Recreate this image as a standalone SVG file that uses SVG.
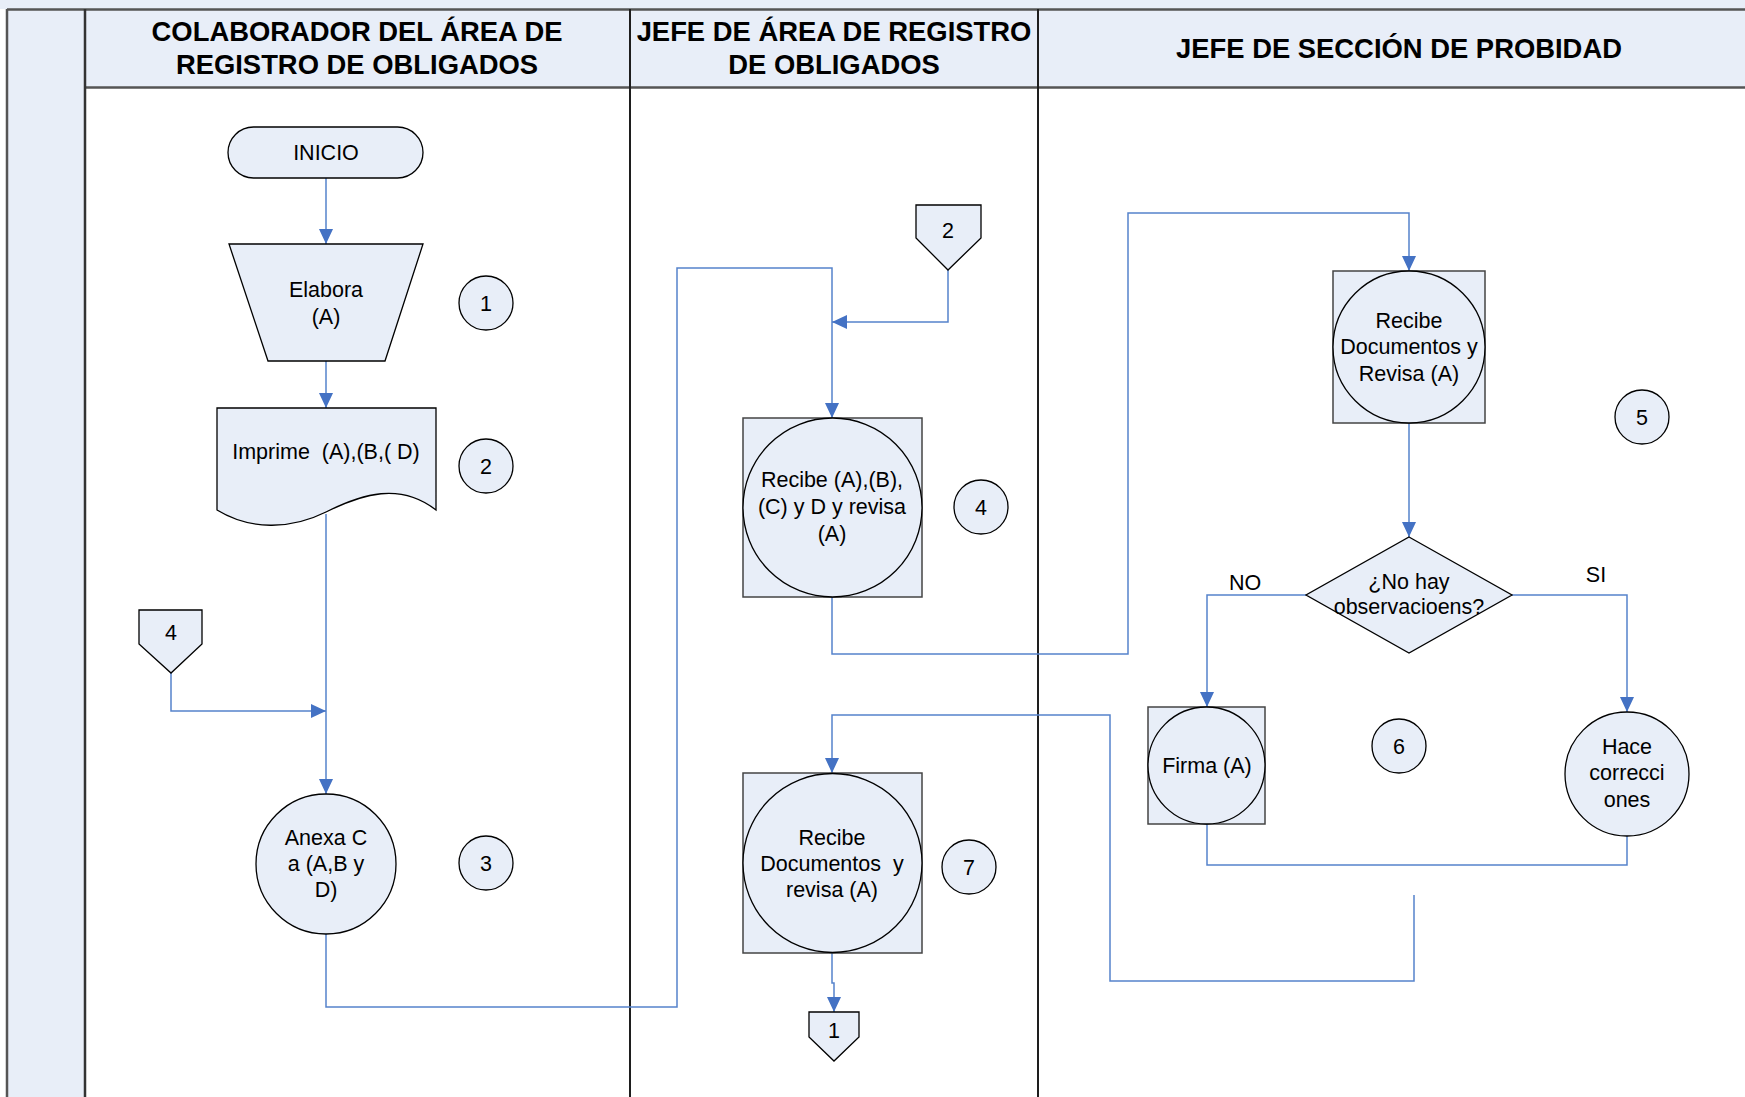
<svg xmlns="http://www.w3.org/2000/svg" width="1745" height="1097" viewBox="0 0 1745 1097">
  <style>
    .hdr { font-family: "Liberation Sans", Arial, sans-serif; font-weight: bold; font-size: 27.4px; fill: #000; text-anchor: middle; }
    .t { font-family: "Liberation Sans", Arial, sans-serif; font-size: 21.5px; fill: #000; text-anchor: middle; }
    .shape { fill: #E8EEF8; stroke: #000; stroke-width: 1.3; }
    .box { fill: #E8EEF8; stroke: #444; stroke-width: 1.5; }
    .conn { fill: none; stroke: #5583CB; stroke-width: 1.5; }
    .frame { stroke: #555; stroke-width: 2.5; fill: none; }
    .lane { stroke: #1E1E1E; stroke-width: 2; fill: none; }
  </style>
  <defs>
    <marker id="arrow" markerUnits="userSpaceOnUse" markerWidth="16" markerHeight="16" refX="15" refY="7" orient="auto">
      <path d="M0,0 L15,7 L0,14 Z" fill="#4472C4"/>
    </marker>
  </defs>

  <!-- swimlane frame -->
  <g id="frame">
    <rect x="0" y="0" width="1745" height="1097" fill="#FFFFFF"/>
    <rect x="0" y="0" width="1745" height="9" fill="#E8EEF8"/>
    <rect x="7" y="9" width="78" height="1088" fill="#E8EEF8"/>
    <rect x="85" y="9" width="1660" height="79" fill="#E8EEF8"/>
    <line class="frame" x1="7" y1="9.5" x2="1745" y2="9.5"/>
    <line class="frame" x1="85" y1="87.5" x2="1745" y2="87.5"/>
    <line class="frame" x1="7" y1="9" x2="7" y2="1097"/>
    <line x1="85" y1="9" x2="85" y2="1097" stroke="#333" stroke-width="2.5"/>
    <line class="lane" x1="630" y1="9" x2="630" y2="1097"/>
    <line class="lane" x1="1038" y1="9" x2="1038" y2="1097"/>
    <text class="hdr" x="357" y="41">COLABORADOR DEL ÁREA DE</text>
    <text class="hdr" x="357" y="74">REGISTRO DE OBLIGADOS</text>
    <text class="hdr" x="834" y="41">JEFE DE ÁREA DE REGISTRO</text>
    <text class="hdr" x="834" y="74">DE OBLIGADOS</text>
    <text class="hdr" x="1399" y="58">JEFE DE SECCIÓN DE PROBIDAD</text>
  </g>

  <!-- connectors -->
  <g id="connectors">
    <path class="conn" d="M326,178 V244" marker-end="url(#arrow)"/>
    <path class="conn" d="M326,361 V408" marker-end="url(#arrow)"/>
    <path class="conn" d="M326,514 V794" marker-end="url(#arrow)"/>
    <path class="conn" d="M171,673 V711 H326" marker-end="url(#arrow)"/>
    <path class="conn" d="M326,934 V1007 H677 V268 H832 V418" marker-end="url(#arrow)"/>
    <path class="conn" d="M948,270 V322 H832" marker-end="url(#arrow)"/>
    <path class="conn" d="M832,597 V654 H1128 V213 H1409 V271" marker-end="url(#arrow)"/>
    <path class="conn" d="M1409,423 V537" marker-end="url(#arrow)"/>
    <path class="conn" d="M1306,595 H1207 V707" marker-end="url(#arrow)"/>
    <path class="conn" d="M1512,595 H1627 V712" marker-end="url(#arrow)"/>
    <path class="conn" d="M1207,824 V865 H1627 V836"/>
    <path class="conn" d="M1414,895 V981 H1110 V715 H832 V773" marker-end="url(#arrow)"/>
    <path class="conn" d="M832,953 V983 H834 V1012" marker-end="url(#arrow)"/>
    <text class="t" x="1245" y="590">NO</text>
    <text class="t" x="1596" y="582">SI</text>
  </g>

  <!-- lane 1 -->
  <g id="inicio">
    <rect class="shape" x="228" y="127" width="195" height="51" rx="25.5"/>
    <text class="t" x="326" y="160">INICIO</text>
  </g>
  <g id="elabora">
    <path class="shape" d="M229,244 H423 L385,361 H268 Z"/>
    <text class="t" x="326" y="297">Elabora</text>
    <text class="t" x="326" y="324">(A)</text>
  </g>
  <g id="imprime">
    <path class="shape" d="M217,408 H436 V510 C400,482 362,494 326,512 C290,530 250,530 217,510 Z"/>
    <text class="t" x="326" y="459" xml:space="preserve">Imprime  (A),(B,( D)</text>
  </g>
  <g id="conector-4-entrada">
    <path class="shape" d="M139,610 H202 V644 L171,673 L139,644 Z"/>
    <text class="t" x="171" y="640">4</text>
  </g>
  <g id="anexa">
    <circle class="shape" cx="326" cy="864" r="70"/>
    <text class="t" x="326" y="845">Anexa C</text>
    <text class="t" x="326" y="871">a (A,B y</text>
    <text class="t" x="326" y="897">D)</text>
  </g>
  <g id="paso-1"><circle class="shape" cx="486" cy="303" r="27"/><text class="t" x="486" y="311">1</text></g>
  <g id="paso-2"><circle class="shape" cx="486" cy="466" r="27"/><text class="t" x="486" y="474">2</text></g>
  <g id="paso-3"><circle class="shape" cx="486" cy="863" r="27"/><text class="t" x="486" y="871">3</text></g>

  <!-- lane 2 -->
  <g id="conector-2-entrada">
    <path class="shape" d="M916,205 H981 V238 L948,270 L916,238 Z"/>
    <text class="t" x="948" y="238">2</text>
  </g>
  <g id="recibe-revisa">
    <rect class="box" x="743" y="418" width="179" height="179"/>
    <circle class="shape" cx="832.5" cy="507.5" r="89.5"/>
    <text class="t" x="832" y="487">Recibe (A),(B),</text>
    <text class="t" x="832" y="514">(C) y D y revisa</text>
    <text class="t" x="832" y="541">(A)</text>
  </g>
  <g id="paso-4"><circle class="shape" cx="981" cy="507" r="27"/><text class="t" x="981" y="515">4</text></g>
  <g id="recibe-documentos">
    <rect class="box" x="743" y="773" width="179" height="180"/>
    <circle class="shape" cx="832.5" cy="863" r="89.5"/>
    <text class="t" x="832" y="845">Recibe</text>
    <text class="t" x="832" y="871" xml:space="preserve">Documentos  y</text>
    <text class="t" x="832" y="897">revisa (A)</text>
  </g>
  <g id="paso-7"><circle class="shape" cx="969" cy="867" r="27"/><text class="t" x="969" y="875">7</text></g>
  <g id="conector-1-salida">
    <path class="shape" d="M809,1012 H859 V1037 L834,1061 L809,1037 Z"/>
    <text class="t" x="834" y="1038">1</text>
  </g>

  <!-- lane 3 -->
  <g id="recibe-revisa-jefe">
    <rect class="box" x="1333" y="271" width="152" height="152"/>
    <circle class="shape" cx="1409" cy="347" r="76"/>
    <text class="t" x="1409" y="328">Recibe</text>
    <text class="t" x="1409" y="354">Documentos y</text>
    <text class="t" x="1409" y="381">Revisa (A)</text>
  </g>
  <g id="paso-5"><circle class="shape" cx="1642" cy="417" r="27"/><text class="t" x="1642" y="425">5</text></g>
  <g id="decision">
    <path class="shape" d="M1409,537 L1512,595 L1409,653 L1306,595 Z"/>
    <text class="t" x="1409" y="589">¿No hay</text>
    <text class="t" x="1409" y="614">observacioens?</text>
  </g>
  <g id="firma">
    <rect class="box" x="1148" y="707" width="117" height="117"/>
    <circle class="shape" cx="1206.5" cy="765.5" r="58.5"/>
    <text class="t" x="1207" y="773">Firma (A)</text>
  </g>
  <g id="paso-6"><circle class="shape" cx="1399" cy="746" r="27"/><text class="t" x="1399" y="754">6</text></g>
  <g id="correcciones">
    <circle class="shape" cx="1627" cy="774" r="62"/>
    <text class="t" x="1627" y="754">Hace</text>
    <text class="t" x="1627" y="780">correcci</text>
    <text class="t" x="1627" y="807">ones</text>
  </g>
</svg>
